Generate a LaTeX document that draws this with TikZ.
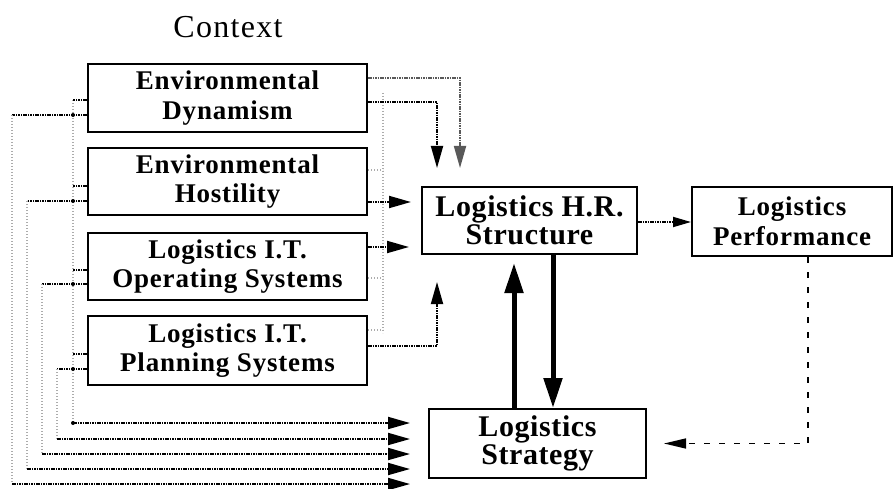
\documentclass[tikz,border=0pt]{standalone}
\usepackage{fontspec}
\setmainfont{Liberation Serif}
\usetikzlibrary{arrows.meta,calc}

\tikzset{
  box/.style={draw, line width=2pt, inner sep=0pt, align=center,
    font=\fontsize{27}{29.5}\selectfont\bfseries\addfontfeature{LetterSpace=3}},
  keybox/.style={box, font=\fontsize{30}{28}\selectfont\bfseries\addfontfeature{LetterSpace=2}},
  link/.style={line width=1.8pt, dash pattern=on 1.6pt off 0.8pt},
  faint/.style={gray!65, line width=1.2pt, dash pattern=on 1.2pt off 1.8pt},
  tip/.style={-{Triangle[length=22pt,width=12pt]}},
  smalltip/.style={-{Triangle[length=18pt,width=10pt]}},
  heavy/.style={line width=5pt, -{Triangle[length=30pt,width=18pt]}},
  feedback/.style={line width=1.5pt, dash pattern=on 6pt off 9pt,
    -{Triangle[length=22pt,width=10pt]}},
}

\begin{document}
\begin{tikzpicture}[x=1pt,y=-1pt]
  \useasboundingbox (0,0) rectangle (893,489);

  \node[font=\fontsize{32}{34}\selectfont\addfontfeature{LetterSpace=4}] (ctx) at (228,27) {Context};

  % context factors
  \node[box, minimum width=279pt, minimum height=68pt] (dyn)  at (227.5,98)   {Environmental\\Dynamism};
  \node[box, minimum width=279pt, minimum height=67pt] (host) at (227.5,181.5) {Environmental\\Hostility};
  \node[box, minimum width=279pt, minimum height=67pt] (oper) at (227.5,266.5) {Logistics I.T.\\Operating Systems};
  \node[box, minimum width=279pt, minimum height=69pt] (plan) at (227.5,350.5) {Logistics I.T.\\Planning Systems};

  % central constructs
  \node[keybox, minimum width=215pt, minimum height=67pt] (hr)    at (529.5,220.5) {Logistics H.R.\\Structure};
  \node[box, minimum width=200pt, minimum height=69pt]    (perf)  at (792,221.5)   {Logistics\\Performance};
  \node[keybox, minimum width=217pt, minimum height=69pt] (strat) at (537.5,443.5) {Logistics\\Strategy};

  % arrow ends in front of the strategy box
  \coordinate (s1) at (410,423);
  \coordinate (s2) at (410,439);
  \coordinate (s3) at (410,454);
  \coordinate (s4) at (410,469);
  \coordinate (s5) at (410,484);

  % left collector bus
  \coordinate (busL) at (73,100);
  \coordinate (busLb) at (73,423);
  \draw[faint] (busL) -- (busLb);
  \draw[link] ($(dyn.west)+(0,2)$)   -- (busL);
  \draw[link] ($(host.west)+(0,4.5)$) -- (73,186);
  \draw[link] ($(oper.west)+(0,3.5)$) -- (73,270);
  \draw[link] ($(plan.west)+(0,3.5)$) -- (73,354);
  \draw[link, tip] (busLb) -- (s1);

  % individual feeds into the strategy box
  \draw[link] ($(dyn.west)+(0,17)$)   -- (12,115);
  \draw[faint] (12,115) -- (12,484);
  \draw[link, tip] (12,484) -- (s5);

  \draw[link] ($(host.west)+(0,19.5)$) -- (27,201);
  \draw[faint] (27,201) -- (27,469);
  \draw[link, tip] (27,469) -- (s4);

  \draw[link] ($(oper.west)+(0,17.5)$) -- (42,284);
  \draw[faint] (42,284) -- (42,454);
  \draw[link, tip] (42,454) -- (s3);

  \draw[link] ($(plan.west)+(0,18.5)$) -- (57,369);
  \draw[faint] (57,369) -- (57,439);
  \draw[link, tip] (57,439) -- (s2);

  % junction dots on the left bus
  \foreach \yy in {115,201,284,369,423}
    \fill (73,\yy) circle (2pt);

  % right collector bus
  \draw[faint] (383,93) -- (383,333);
  \draw[faint] ($(host.east)+(0,-11.5)$) -- (383,170);
  \draw[faint] ($(oper.east)+(0,11.5)$)  -- (383,278);
  \draw[faint] ($(plan.east)+(0,-20.5)$) -- (383,330);

  % context factors into H.R. structure
  \draw[link, gray!70!black, tip] ($(dyn.east)+(0,-20)$) -| (460,168);
  \draw[link, tip] ($(dyn.east)+(0,4)$) -| (437,168);
  \draw[link, tip] ($(host.east)+(0,20.5)$) -- ($(hr.west)+(-10,-18.5)$);
  \draw[link, tip] ($(oper.east)+(0,-19.5)$) -- ($(hr.west)+(-12,26.5)$);
  \draw[link, tip] ($(plan.east)+(0,-4.5)$) -| (437,282);

  % structure, strategy and performance
  \draw[link, smalltip] (hr.east |- 0,222) -- (perf.west |- 0,222);
  \draw[heavy] (hr.south -| 553,0) -- (strat.north -| 553,0);
  \draw[heavy] (strat.north -| 514,0) -- (514,263);
  \draw[feedback] (perf.south -| 808,0) |- ($(strat.east)+(17,0)$);
\end{tikzpicture}
\end{document}
